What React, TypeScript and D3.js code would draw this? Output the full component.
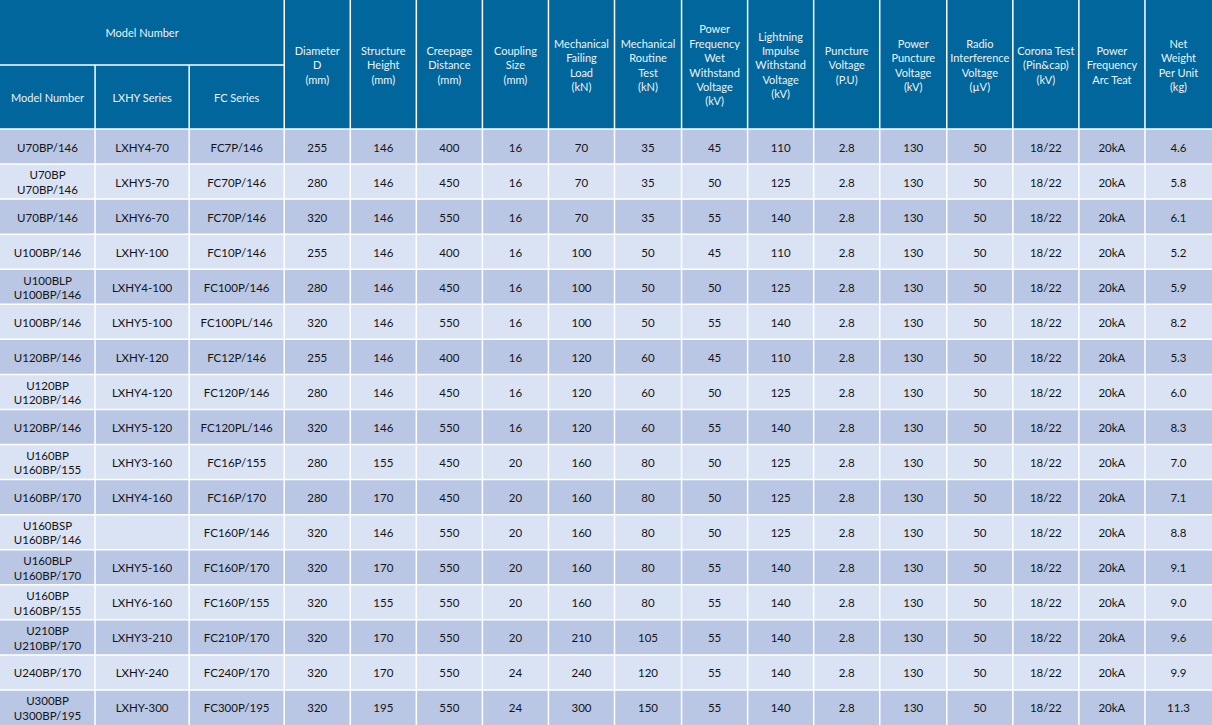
import React from "react";
import * as d3 from "d3";

const headerTop = ["Model Number"];
const subHeaders = ["Model Number", "LXHY Series", "FC Series"];
const columnHeaders = [
  ["Diameter", "D", "(mm)"],
  ["Structure", "Height", "(mm)"],
  ["Creepage", "Distance", "(mm)"],
  ["Coupling", "Size", "(mm)"],
  ["Mechanical", "Failing", "Load", "(kN)"],
  ["Mechanical", "Routine", "Test", "(kN)"],
  ["Power", "Frequency", "Wet", "Withstand", "Voltage", "(kV)"],
  ["Lightning", "Impulse", "Withstand", "Voltage", "(kV)"],
  ["Puncture", "Voltage", "(P.U)"],
  ["Power", "Puncture", "Voltage", "(kV)"],
  ["Radio", "Interference", "Voltage", "(µV)"],
  ["Corona Test", "(Pin&cap)", "(kV)"],
  ["Power", "Frequency", "Arc Teat"],
  ["Net", "Weight", "Per Unit", "(kg)"],
];

const modelNumbers = [
  "U70BP/146", "U70BP\nU70BP/146", "U70BP/146", "U100BP/146", "U100BLP\nU100BP/146",
  "U100BP/146", "U120BP/146", "U120BP\nU120BP/146", "U120BP/146", "U160BP\nU160BP/155",
  "U160BP/170", "U160BSP\nU160BP/146", "U160BLP\nU160BP/170", "U160BP\nU160BP/155",
  "U210BP\nU210BP/170", "U240BP/170", "U300BP\nU300BP/195",
];
const lxhySeries = [
  "LXHY4-70", "LXHY5-70", "LXHY6-70", "LXHY-100", "LXHY4-100", "LXHY5-100", "LXHY-120",
  "LXHY4-120", "LXHY5-120", "LXHY3-160", "LXHY4-160", "", "LXHY5-160", "LXHY6-160",
  "LXHY3-210", "LXHY-240", "LXHY-300",
];
const fcSeries = [
  "FC7P/146", "FC70P/146", "FC70P/146", "FC10P/146", "FC100P/146", "FC100PL/146", "FC12P/146",
  "FC120P/146", "FC120PL/146", "FC16P/155", "FC16P/170", "FC160P/146", "FC160P/170",
  "FC160P/155", "FC210P/170", "FC240P/170", "FC300P/195",
];
const diameter = [255, 280, 320, 255, 280, 320, 255, 280, 320, 280, 280, 320, 320, 320, 320, 320, 320];
const structureHeight = [146, 146, 146, 146, 146, 146, 146, 146, 146, 155, 170, 146, 170, 155, 170, 170, 195];
const creepage = [400, 450, 550, 400, 450, 550, 400, 450, 550, 450, 450, 550, 550, 550, 550, 550, 550];
const coupling = [16, 16, 16, 16, 16, 16, 16, 16, 16, 20, 20, 20, 20, 20, 20, 24, 24];
const failingLoad = [70, 70, 70, 100, 100, 100, 120, 120, 120, 160, 160, 160, 160, 160, 210, 240, 300];
const routineTest = [35, 35, 35, 50, 50, 50, 60, 60, 60, 80, 80, 80, 80, 80, 105, 120, 150];
const wetWithstand = [45, 50, 55, 45, 50, 55, 45, 50, 55, 50, 50, 50, 55, 55, 55, 55, 55];
const impulseWithstand = [110, 125, 140, 110, 125, 140, 110, 125, 140, 125, 125, 125, 140, 140, 140, 140, 140];
const punctureVoltage = ["2.8", "2.8", "2.8", "2.8", "2.8", "2.8", "2.8", "2.8", "2.8", "2.8", "2.8", "2.8", "2.8", "2.8", "2.8", "2.8", "2.8"];
const powerPuncture = [130, 130, 130, 130, 130, 130, 130, 130, 130, 130, 130, 130, 130, 130, 130, 130, 130];
const radioInterference = [50, 50, 50, 50, 50, 50, 50, 50, 50, 50, 50, 50, 50, 50, 50, 50, 50];
const coronaTest = ["18/22", "18/22", "18/22", "18/22", "18/22", "18/22", "18/22", "18/22", "18/22", "18/22", "18/22", "18/22", "18/22", "18/22", "18/22", "18/22", "18/22"];
const arcTest = ["20kA", "20kA", "20kA", "20kA", "20kA", "20kA", "20kA", "20kA", "20kA", "20kA", "20kA", "20kA", "20kA", "20kA", "20kA", "20kA", "20kA"];
const netWeight = ["4.6", "5.8", "6.1", "5.2", "5.9", "8.2", "5.3", "6.0", "8.3", "7.0", "7.1", "8.8", "9.1", "9.0", "9.6", "9.9", "11.3"];

const columnWidths = [95, 94, 95, 66, 66, 66, 66, 66, 67, 66, 66, 66, 67, 66, 66, 66, 67, 67];

const W = 1212;
const H = 725;
const HEADER_MID = 65;
const HEADER_BOTTOM = 129;

const HEADER_BG = "#00669b";
const DARK_ROW = "#b9c7e5";
const LIGHT_ROW = "#dae3f4";
const HEADER_TEXT = "#eef3f7";
const BODY_TEXT = "#141414";
const FONT = "Lato, 'Open Sans', sans-serif";

export default function App() {
  const dataColumns: (string | number)[][] = [
    modelNumbers, lxhySeries, fcSeries, diameter, structureHeight, creepage, coupling,
    failingLoad, routineTest, wetWithstand, impulseWithstand, punctureVoltage, powerPuncture,
    radioInterference, coronaTest, arcTest, netWeight,
  ];
  const nCols = dataColumns.length;
  const widths = columnWidths.slice(0, nCols);
  const total = d3.sum(widths);
  const xs = [0, ...d3.cumsum(widths)].map((v) => (v / total) * W);

  const rowIdx = d3.range(modelNumbers.length);
  const y = d3.scaleBand<number>().domain(rowIdx).range([HEADER_BOTTOM, H]).padding(0);

  const lineH = 14.4;
  const multi = (lines: string[], cx: number, cy: number, fill: string, size: number, lh: number, key: string) => (
    <text key={key} x={cx} textAnchor="middle" fill={fill} fontSize={size} fontFamily={FONT}>
      {lines.map((l, i) => (
        <tspan key={i} x={cx} y={cy + 1 + (i - (lines.length - 1) / 2) * lh} dy="0.35em">
          {l}
        </tspan>
      ))}
    </text>
  );

  return (
    <svg width={W} height={H} style={{ position: "absolute", left: 0, top: 0, display: "block" }}>
      <rect x={0} y={0} width={W} height={HEADER_BOTTOM} fill={HEADER_BG} />
      {rowIdx.map((r) => (
        <rect key={"r" + r} x={0} y={y(r)} width={W} height={y.bandwidth()} fill={r % 2 === 0 ? DARK_ROW : LIGHT_ROW} />
      ))}
      {/* grid lines */}
      <g stroke="#ffffff" strokeWidth={1.5}>
        {xs.slice(1, -1).map((x, i) => (
          <line key={"v" + i} x1={x} x2={x} y1={i < 2 ? HEADER_MID : 0} y2={H} />
        ))}
        <line x1={0} x2={xs[3]} y1={HEADER_MID} y2={HEADER_MID} />
        <line x1={0} x2={W} y1={HEADER_BOTTOM} y2={HEADER_BOTTOM} />
        {rowIdx.slice(1).map((r) => (
          <line key={"h" + r} x1={0} x2={W} y1={y(r)} y2={y(r)} />
        ))}
      </g>
      {/* header text */}
      {multi(headerTop, xs[3] / 2, HEADER_MID / 2, HEADER_TEXT, 11, lineH, "top")}
      {subHeaders.map((t, i) =>
        multi([t], (xs[i] + xs[i + 1]) / 2, (HEADER_MID + HEADER_BOTTOM) / 2, HEADER_TEXT, 11, lineH, "sh" + i)
      )}
      {columnHeaders.map((lines, i) =>
        multi(lines, (xs[i + 3] + xs[i + 4]) / 2, HEADER_BOTTOM / 2, HEADER_TEXT, 11, lineH, "ch" + i)
      )}
      {/* body */}
      {dataColumns.map((col, c) =>
        col.map((v, r) => {
          const lines = String(v).split("\n").filter((s) => s.length > 0);
          if (lines.length === 0) return null;
          return multi(
            lines,
            (xs[c] + xs[c + 1]) / 2,
            (y(r) as number) + y.bandwidth() / 2,
            BODY_TEXT,
            11.5,
            14.5,
            `d${c}-${r}`
          );
        })
      )}
    </svg>
  );
}
